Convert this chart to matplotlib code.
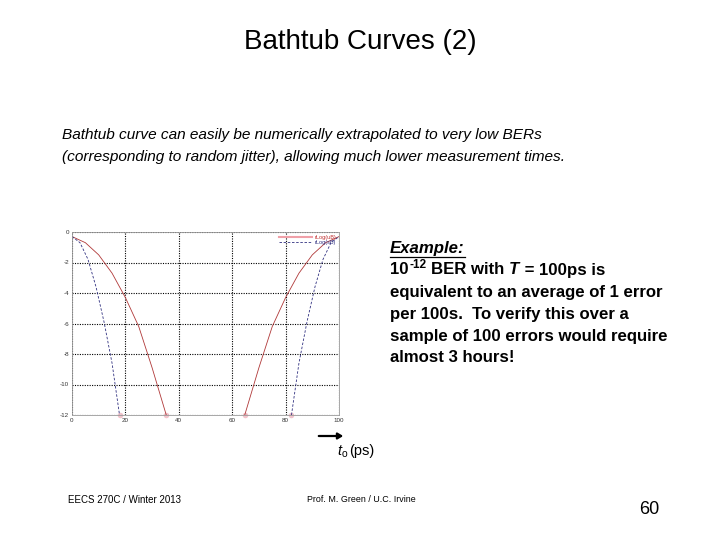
import numpy as np
import matplotlib
matplotlib.use("Agg")
import matplotlib.pyplot as plt

plt.rcParams['font.family'] = ['Liberation Sans', 'DejaVu Sans']
plt.rcParams['axes.unicode_minus'] = False

# values (x in ps, y = log10 BER)
red_left_x = [0, 5, 10, 15, 20, 25, 30, 35.3]
red_left_y = [-0.3, -0.7, -1.5, -2.7, -4.3, -6.2, -8.9, -12]
red_right_x = [64.7, 70, 75, 80, 85, 90, 95, 100]
red_right_y = [-12, -8.9, -6.2, -4.3, -2.7, -1.5, -0.7, -0.3]
blue_left_x = [0, 3, 6, 9, 12, 15, 17.8]
blue_left_y = [-0.3, -0.7, -1.8, -3.6, -5.9, -8.6, -12]
blue_right_x = [82.2, 85, 88, 91, 94, 97, 100]
blue_right_y = [-12, -8.6, -5.9, -3.6, -1.8, -0.7, -0.3]
floor_x = [17.8, 35.3, 64.7, 82.2]
floor_y = [-12, -12, -12, -12]
x_ticks = [0, 20, 40, 60, 80, 100]
y_ticks = [0, -2, -4, -6, -8, -10, -12]

W, H = 720, 540
fig = plt.figure(figsize=(7.2, 5.4), dpi=100)

def fy(py):
    return 1 - py / H

def fx(px):
    return px / W

ax = fig.add_axes([fx(72), fy(415), fx(339) - fx(72), fy(232) - fy(415)])
ax.plot(red_left_x, red_left_y, color='#b03838', lw=0.6, label='rLog(uB)')
ax.plot(red_right_x, red_right_y, color='#b03838', lw=0.6)
ax.plot(blue_left_x, blue_left_y, color='#303080', lw=0.6, ls=(0, (3, 2)), label='rLog(sB)')
ax.plot(blue_right_x, blue_right_y, color='#303080', lw=0.6, ls=(0, (3, 2)))
ax.plot(floor_x, floor_y, 'o', color='#f2c4cc', ms=4, mec='none', clip_on=False, zorder=1)
ax.set_xlim(0, 100)
ax.set_ylim(-12, 0)
ax.set_xticks(x_ticks)
ax.set_yticks(y_ticks)
ax.tick_params(labelsize=4.5, length=0, pad=2, colors='#333333')
ax.grid(True, color='black', ls=(0, (1, 1.2)), lw=0.8)
for s in ax.spines.values():
    s.set_color('#999999')
    s.set_linewidth(0.6)
leg = ax.legend(loc='upper right', fontsize=4, frameon=False, handlelength=6,
                handletextpad=0.4, borderaxespad=0.1, labelspacing=0.05)
for t, c in zip(leg.get_texts(), ['#c03030', '#303080']):
    t.set_color(c)
leg.get_lines()[0].set_color('#f0a0a8')
leg.get_lines()[0].set_linewidth(1.5)

# slide text
fig.text(0.5, fy(42), 'Bathtub Curves (2)', ha='center', va='center', fontsize=20)
fig.text(fx(62), fy(135), 'Bathtub curve can easily be numerically extrapolated to very low BERs',
         fontsize=11.05, style='italic', va='center')
fig.text(fx(62), fy(157), '(corresponding to random jitter), allowing much lower measurement times.',
         fontsize=11.05, style='italic', va='center')

fig.canvas.draw()
r = fig.canvas.get_renderer()

def put(px, py, s, **kw):
    t = fig.text(fx(px), fy(py), s, va='center', **kw)
    bb = t.get_window_extent(r)
    return bb

bold = dict(fontsize=12.1, weight='bold')
bb = put(390, 248, 'Example:', style='italic', **bold)
fig.add_artist(plt.Line2D([bb.x0 / W, bb.x1 / W], [fy(257)] * 2, color='black', lw=0.9))

bb = put(390, 270, '10', **bold)
bb = put(bb.x1 + 1, 265, '-12', fontsize=8.5, weight='bold')
bb = put(bb.x1 + 4, 270, 'BER with ', **bold)
bb = put(bb.x1, 270, 'T', style='italic', **bold)
put(bb.x1 + 1, 270, ' = 100ps is', **bold)
lines = ['equivalent to an average of 1 error',
         'per 100s.  To verify this over a',
         'sample of 100 errors would require',
         'almost 3 hours!']
for i, s in enumerate(lines):
    put(390, 292 + 22 * i, s, **bold)

fig.add_artist(matplotlib.patches.FancyArrowPatch((fx(316), fy(436)), (fx(346), fy(436)),
               transform=fig.transFigure, arrowstyle='-|>,head_length=3,head_width=1.8',
               color='black', lw=1.6, mutation_scale=1))
bb = put(337, 451, 't', style='italic', fontsize=10.5)
bb = put(bb.x1 + 0.5, 454, 'o', fontsize=7.5)
put(bb.x1 + 2, 451, '(ps)', fontsize=10.5)

fig.text(fx(68), fy(500), 'EECS 270C / Winter 2013', fontsize=7, va='center')
fig.text(fx(307), fy(499), 'Prof. M. Green / U.C. Irvine', fontsize=6.4, va='center')
fig.text(fx(639), fy(510), '60', fontsize=13, va='center')

fig.savefig('out.png', dpi=100)
